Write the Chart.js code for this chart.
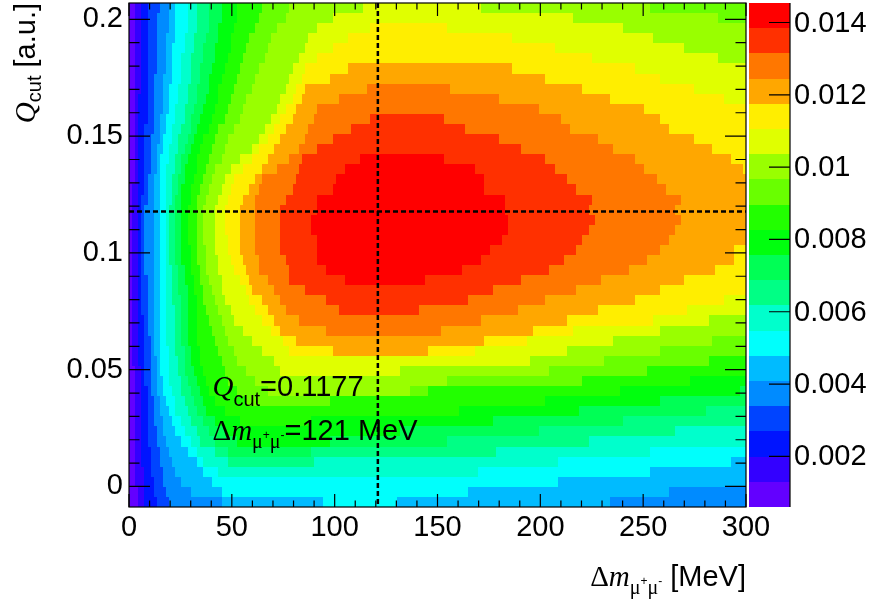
<!DOCTYPE html>
<html>
<head>
<meta charset="utf-8">
<script src="https://cdn.jsdelivr.net/npm/chart.js@4.4.1/dist/chart.umd.min.js"></script>
<style>
  html, body { margin: 0; padding: 0; background: #fff; }
  #wrap { width: 873px; height: 601px; position: relative; }
</style>
</head>
<body>
<div id="wrap"><canvas id="chart" width="873" height="601"></canvas></div>
<script>
// ── axes / binning ──
const xRange = [0, 300], nBinsX = 200;          // Δm [MeV]
const qRange = [-0.0088, 0.207], nBinsQ = 50;   // Q_cut [a.u.]
const zRange = [0.0006, 0.01454], nLevels = 20; // colour scale
const xTicks = [0, 50, 100, 150, 200, 250, 300];
const qTicks = [0, 0.05, 0.1, 0.15, 0.2];
const zTicks = [0.002, 0.004, 0.006, 0.008, 0.01, 0.012, 0.014];
const bestDm = 121, bestQ = 0.1177;

// ROOT "pretty" palette, 20 contour colours (low -> high)
const levelColors = ['#6300FF', '#3300FF', '#0014FF', '#0044FF', '#008BFF', '#00BBFF', '#00FFFC', '#00FFCC', '#00FF85', '#00FF55',
                     '#00FF0E', '#22FF00', '#69FF00', '#99FF00', '#E0FF00', '#FFEE00', '#FFA700', '#FF7700', '#FF3000', '#FF0000'];

// contour k = outline [Δm, Q] of the region where the colour level is >= k
const contour1 = [[3.1,0.2098],[310,0.2098],[310,-0.0124],[4.1,-0.0124],[3.6,0.0026],[3.1,0.0154],[2.6,0.0368],[2.1,0.0603],[2.1,0.1171],[2.6,0.1607],[3.1,0.2026]];
const contour2 = [[6.0,0.2098],[310,0.2098],[310,-0.0124],[8.0,-0.0124],[7.0,0.0026],[6.5,0.0154],[5.5,0.0368],[5.1,0.0603],[4.6,0.0795],[4.1,0.0966],[4.1,0.1171],[4.6,0.1372],[5.1,0.1607],[5.5,0.1821],[6.0,0.2026]];
const contour3 = [[9.4,0.2098],[310,0.2098],[310,-0.0124],[12.8,-0.0124],[12.8,-0.0047],[11.4,0.0026],[9.9,0.0154],[8.5,0.0368],[7.5,0.0603],[6.5,0.0795],[6.0,0.0966],[6.0,0.1171],[7.5,0.1372],[8.5,0.1607],[8.9,0.1821],[9.4,0.2026]];
const contour4 = [[14.3,0.2098],[310,0.2098],[310,-0.0124],[20.1,-0.0124],[18.7,-0.0038],[16.7,0.0026],[14.3,0.0154],[11.4,0.0368],[9.9,0.0603],[8.9,0.0795],[8.0,0.0966],[8.0,0.1171],[9.4,0.1286],[10.4,0.1372],[10.9,0.1479],[11.9,0.1607],[12.3,0.1714],[13.3,0.1821],[13.8,0.1927],[14.3,0.2026]];
const contour5 = [[19.1,0.2098],[310,0.2098],[310,-0.0004],[262.1,-0.0004],[262.1,-0.0047],[233.4,-0.0047],[233.4,-0.0124],[44.9,-0.0124],[44.9,-0.0047],[29.8,-0.0026],[25.0,0.0026],[20.1,0.0111],[16.7,0.0239],[14.3,0.0368],[12.3,0.0603],[11.9,0.0795],[11.4,0.0966],[11.4,0.1171],[12.3,0.1286],[13.3,0.1372],[14.3,0.1479],[15.7,0.1607],[16.7,0.1714],[17.7,0.1821],[18.7,0.1927],[19.1,0.2026]];
const contour6 = [[23.0,0.2098],[310,0.2098],[310,0.0128],[293.2,0.0128],[293.2,0.0084],[252.9,0.0084],[252.9,0.0041],[208.2,0.0041],[208.2,-0.0003],[164.4,-0.0003],[164.4,-0.0046],[130.0,-0.0046],[130.0,-0.0124],[94.0,-0.0124],[94.0,-0.0046],[46.8,-0.0040],[40.5,0.0019],[35.7,0.0062],[32.8,0.0106],[28.4,0.0149],[22.5,0.0239],[18.7,0.0338],[15.3,0.0483],[14.3,0.0624],[15.3,0.0795],[14.8,0.0966],[14.8,0.1286],[15.3,0.1372],[16.7,0.1479],[18.7,0.1607],[20.1,0.1714],[21.1,0.1821],[22.1,0.1927],[23.0,0.2026]];
const contour7 = [[28.4,0.2098],[310,0.2098],[310,0.0171],[252.9,0.0171],[252.9,0.0128],[208.2,0.0128],[208.2,0.0084],[169.0,0.0084],[169.0,0.0041],[48.0,0.0041],[42.0,0.0070],[36.0,0.0106],[34.7,0.0132],[28.4,0.0218],[23.0,0.0325],[20.1,0.0453],[18.7,0.0603],[18.7,0.0795],[17.7,0.0966],[17.7,0.1171],[18.2,0.1286],[18.7,0.1372],[20.6,0.1479],[23.0,0.1607],[24.5,0.1714],[25.9,0.1821],[27.4,0.1927],[28.4,0.2026]];
const contour8 = [[33.2,0.2098],[310,0.2098],[310,0.0257],[265.1,0.0257],[265.1,0.0214],[223.2,0.0214],[223.2,0.0171],[178.0,0.0171],[178.0,0.0128],[90.0,0.0128],[90.0,0.0084],[50.0,0.0084],[46.8,0.0120],[34.7,0.0188],[28.4,0.0316],[25.0,0.0453],[22.5,0.0603],[21.6,0.0795],[20.1,0.0966],[20.1,0.1171],[21.1,0.1286],[22.1,0.1372],[24.5,0.1479],[26.9,0.1607],[28.9,0.1714],[30.4,0.1821],[31.8,0.1927],[33.2,0.2026]];
const contour9 = [[39.6,0.2098],[310,0.2098],[310,0.0344],[280.1,0.0344],[280.1,0.0300],[239.8,0.0300],[239.8,0.0257],[199.9,0.0257],[199.9,0.0214],[154.7,0.0214],[154.7,0.0171],[88.0,0.0171],[88.0,0.0128],[50.0,0.0128],[39.6,0.0218],[32.3,0.0325],[28.4,0.0453],[26.0,0.0603],[25.0,0.0795],[23.0,0.0966],[22.5,0.1171],[23.5,0.1286],[25.0,0.1372],[27.9,0.1479],[31.4,0.1607],[33.2,0.1714],[35.7,0.1821],[37.6,0.1927],[39.6,0.2026]];
const contour10 = [[45.4,0.2098],[310,0.2098],[310,0.0430],[296.6,0.0430],[296.6,0.0387],[257.3,0.0387],[257.3,0.0344],[218.4,0.0344],[218.4,0.0300],[177.1,0.0300],[177.1,0.0257],[131.9,0.0257],[131.9,0.0214],[98.0,0.0214],[98.0,0.0171],[55.0,0.0171],[46.8,0.0231],[37.1,0.0316],[32.3,0.0453],[28.9,0.0603],[28.4,0.0795],[26.0,0.0966],[25.0,0.1171],[25.9,0.1286],[27.9,0.1372],[31.4,0.1479],[35.7,0.1607],[38.7,0.1714],[41.1,0.1821],[43.4,0.1927],[45.4,0.2026]];
const contour11 = [[53.2,0.2098],[310,0.2098],[310,0.0473],[272.3,0.0473],[272.3,0.0430],[238.3,0.0430],[238.3,0.0387],[202.4,0.0387],[202.4,0.0344],[161.1,0.0344],[161.1,0.0300],[88.0,0.0300],[88.0,0.0257],[60.0,0.0257],[51.7,0.0291],[42.0,0.0355],[37.1,0.0453],[33.7,0.0603],[32.3,0.0795],[29.4,0.0966],[28.9,0.1171],[29.8,0.1286],[32.8,0.1372],[36.2,0.1479],[41.5,0.1607],[44.5,0.1714],[47.3,0.1821],[50.2,0.1927],[53.2,0.2026]];
const contour12 = [[64.8,0.2098],[310,0.2098],[310,0.0560],[281.5,0.0560],[281.5,0.0516],[251.4,0.0516],[251.4,0.0473],[220.3,0.0473],[220.3,0.0430],[145.0,0.0430],[145.0,0.0387],[97.9,0.0387],[97.9,0.0344],[65.0,0.0344],[56.6,0.0368],[48.3,0.0453],[42.0,0.0603],[36.6,0.0795],[33.2,0.0966],[32.3,0.1171],[34.2,0.1286],[37.6,0.1372],[42.0,0.1479],[47.3,0.1607],[51.7,0.1714],[55.6,0.1821],[59.0,0.1927],[64.8,0.2026]];
const contour13 = [[78.4,0.2098],[252.9,0.2098],[252.9,0.2026],[285.9,0.2026],[285.9,0.1983],[310,0.1983],[310,0.0646],[283.0,0.0646],[283.0,0.0602],[258.7,0.0602],[258.7,0.0560],[230.5,0.0560],[230.5,0.0516],[203.8,0.0516],[203.8,0.0473],[154.7,0.0473],[154.7,0.0430],[136.7,0.0430],[136.7,0.0387],[70.0,0.0387],[61.4,0.0453],[54.1,0.0517],[49.3,0.0603],[42.0,0.0795],[37.1,0.0966],[36.2,0.1171],[38.6,0.1286],[43.4,0.1372],[49.3,0.1500],[55.1,0.1607],[60.0,0.1714],[64.8,0.1821],[71.1,0.1949],[78.4,0.2026]];
const contour14 = [[113.9,0.2098],[170.8,0.2098],[170.8,0.2026],[215.5,0.2026],[215.5,0.1983],[239.8,0.1983],[239.8,0.1940],[254.4,0.1940],[254.4,0.1897],[269.4,0.1897],[269.4,0.1854],[286.0,0.1854],[286.0,0.1810],[310,0.1810],[310,0.0732],[281.5,0.0732],[281.5,0.0688],[258.7,0.0688],[258.7,0.0646],[234.9,0.0646],[234.9,0.0602],[212.5,0.0602],[212.5,0.0560],[195.0,0.0560],[195.0,0.0516],[131.9,0.0516],[131.9,0.0473],[75.0,0.0473],[68.7,0.0560],[61.4,0.0603],[51.7,0.0709],[46.8,0.0795],[43.4,0.0923],[42.0,0.1051],[42.0,0.1171],[45.4,0.1286],[50.2,0.1372],[55.6,0.1415],[60.0,0.1436],[67.3,0.1543],[74.5,0.1671],[79.9,0.1799],[85.7,0.1885],[89.1,0.1957],[98.8,0.1983],[98.8,0.2026],[113.9,0.2026]];
const contour15 = [[116.9,0.1984],[154.7,0.1984],[154.7,0.1940],[185.8,0.1940],[185.8,0.1897],[206.7,0.1897],[206.7,0.1854],[225.2,0.1854],[225.2,0.1810],[245.6,0.1810],[245.6,0.1767],[257.3,0.1767],[257.3,0.1724],[275.2,0.1724],[275.2,0.1681],[288.8,0.1681],[288.8,0.1638],[310,0.1638],[310,0.0818],[288.8,0.0818],[288.8,0.0775],[270.9,0.0775],[270.9,0.0732],[254.4,0.0732],[254.4,0.0688],[215.5,0.0688],[215.5,0.0646],[193.7,0.0646],[193.7,0.0602],[167.4,0.0602],[167.4,0.0560],[80.0,0.0560],[77.0,0.0603],[64.8,0.0709],[59.0,0.0795],[54.1,0.0880],[49.3,0.0966],[46.8,0.1094],[46.8,0.1171],[49.3,0.1286],[56.6,0.1372],[65.3,0.1466],[72.2,0.1551],[78.4,0.1637],[81.8,0.1722],[85.7,0.1786],[91.6,0.1829],[98.8,0.1872],[106.1,0.1915],[116.9,0.1960]];
const contour16 = [[106.1,0.1810],[185.8,0.1810],[185.8,0.1767],[202.4,0.1767],[202.4,0.1724],[220.3,0.1724],[220.3,0.1681],[233.4,0.1681],[233.4,0.1638],[249.9,0.1638],[249.9,0.1595],[258.7,0.1595],[258.7,0.1552],[262.1,0.1552],[262.1,0.1509],[275.2,0.1509],[275.2,0.1466],[283.0,0.1466],[283.0,0.1422],[293.2,0.1422],[293.2,0.1379],[298.1,0.1379],[298.1,0.1336],[310,0.1336],[310,0.1035],[294.7,0.1035],[294.7,0.0948],[284.5,0.0948],[284.5,0.0904],[269.4,0.0904],[269.4,0.0861],[257.3,0.0861],[257.3,0.0818],[245.6,0.0818],[245.6,0.0775],[227.6,0.0775],[227.6,0.0732],[212.5,0.0732],[212.5,0.0688],[196.0,0.0688],[196.0,0.0646],[172.2,0.0646],[172.2,0.0602],[145.5,0.0602],[145.5,0.0560],[98.8,0.0560],[98.8,0.0602],[80.8,0.0624],[73.6,0.0667],[70.2,0.0710],[67.2,0.0753],[63.8,0.0797],[60.4,0.0840],[58.0,0.0883],[56.6,0.0926],[55.6,0.0969],[54.1,0.1013],[54.1,0.1185],[58.0,0.1272],[64.8,0.1358],[71.2,0.1444],[77.0,0.1530],[81.3,0.1617],[83.3,0.1660],[85.7,0.1703],[97.9,0.1746],[106.1,0.1789]];
const contour17 = [[115.4,0.1724],[155.7,0.1724],[155.7,0.1681],[180.0,0.1681],[180.0,0.1638],[198.9,0.1638],[198.9,0.1595],[209.6,0.1595],[209.6,0.1552],[214.4,0.1552],[214.4,0.1509],[227.6,0.1509],[227.6,0.1466],[234.9,0.1466],[234.9,0.1422],[245.6,0.1422],[245.6,0.1379],[249.9,0.1379],[249.9,0.1336],[256.3,0.1336],[256.3,0.1293],[260.6,0.1293],[260.6,0.1250],[268.0,0.1250],[268.0,0.1207],[265.0,0.1207],[265.0,0.1164],[268.0,0.1164],[268.0,0.1121],[265.0,0.1121],[265.0,0.1078],[262.1,0.1078],[262.1,0.1035],[257.3,0.1035],[257.3,0.0991],[251.4,0.0991],[251.4,0.0948],[242.7,0.0948],[242.7,0.0904],[229.1,0.0904],[229.1,0.0861],[216.9,0.0861],[216.9,0.0818],[202.0,0.0818],[202.0,0.0775],[189.0,0.0775],[189.0,0.0732],[171.0,0.0732],[171.0,0.0688],[151.3,0.0688],[151.3,0.0646],[96.0,0.0646],[96.0,0.0688],[83.0,0.0710],[77.0,0.0753],[74.0,0.0797],[70.0,0.0840],[67.0,0.0883],[63.0,0.0926],[62.0,0.1013],[62.0,0.1228],[63.0,0.1272],[64.0,0.1315],[72.0,0.1358],[78.0,0.1401],[83.0,0.1444],[86.0,0.1487],[87.0,0.1530],[89.6,0.1573],[92.0,0.1617],[102.0,0.1660],[115.4,0.1703]];
const contour18 = [[116.9,0.1595],[152.8,0.1595],[152.8,0.1552],[163.5,0.1552],[163.5,0.1509],[180.0,0.1509],[180.0,0.1466],[190.2,0.1466],[190.2,0.1422],[202.4,0.1422],[202.4,0.1379],[207.2,0.1379],[207.2,0.1336],[212.5,0.1336],[212.5,0.1293],[216.9,0.1293],[216.9,0.1250],[224.7,0.1250],[224.7,0.1207],[223.2,0.1207],[223.2,0.1164],[226.1,0.1164],[226.1,0.1121],[223.2,0.1121],[223.2,0.1078],[220.3,0.1078],[220.3,0.1035],[216.9,0.1035],[216.9,0.0991],[211.1,0.0991],[211.1,0.0948],[203.8,0.0948],[203.8,0.0904],[190.2,0.0904],[190.2,0.0861],[176.6,0.0861],[176.6,0.0818],[164.4,0.0818],[164.4,0.0775],[140.6,0.0775],[140.6,0.0732],[102.0,0.0732],[102.0,0.0775],[96.0,0.0797],[86.0,0.0840],[78.0,0.0883],[77.0,0.0969],[74.0,0.1013],[74.0,0.1185],[77.0,0.1228],[79.0,0.1272],[81.0,0.1315],[82.0,0.1358],[84.0,0.1401],[92.0,0.1444],[99.0,0.1487],[108.0,0.1530],[116.9,0.1573]];
const contour19 = [[112.4,0.1422],[152.8,0.1422],[152.8,0.1379],[167.8,0.1379],[167.8,0.1336],[172.2,0.1336],[172.2,0.1250],[182.4,0.1250],[182.4,0.1164],[184.4,0.1164],[184.4,0.1078],[181.0,0.1078],[181.0,0.1035],[175.2,0.1035],[175.2,0.0991],[170.8,0.0991],[170.8,0.0948],[162.0,0.0948],[162.0,0.0904],[144.0,0.0904],[144.0,0.0861],[104.7,0.0861],[104.7,0.0904],[95.9,0.0904],[95.9,0.0948],[91.5,0.0948],[91.5,0.1078],[88.1,0.1078],[88.1,0.1164],[91.5,0.1164],[91.5,0.1250],[98.8,0.1250],[98.8,0.1293],[100.3,0.1293],[100.3,0.1336],[104.7,0.1336],[104.7,0.1379],[112.4,0.1379]];

const contours = [contour1, contour2, contour3, contour4, contour5, contour6, contour7, contour8, contour9, contour10,
                  contour11, contour12, contour13, contour14, contour15, contour16, contour17, contour18, contour19];

const dx = (xRange[1] - xRange[0]) / nBinsX;
const dq = (qRange[1] - qRange[0]) / nBinsQ;
const dz = (zRange[1] - zRange[0]) / nLevels;

function inside(px, py, poly) {
    let c = false;
    for (let i = 0, j = poly.length - 1; i < poly.length; j = i++) {
        const [xi, yi] = poly[i], [xj, yj] = poly[j];
        if ((yi > py) !== (yj > py) && px < (xj - xi) * (py - yi) / (yj - yi) + xi) c = !c;
    }
    return c;
}

// one histogram cell per bin, value = middle of its colour band
const cells = [];
for (let i = 0; i < nBinsX; i++) {
    for (let j = 0; j < nBinsQ; j++) {
        const x = xRange[0] + (i + 0.5) * dx, q = qRange[0] + (j + 0.5) * dq;
        let lev = 0;
        for (let k = contours.length; k >= 1; k--) {
            if (inside(x, q, contours[k - 1])) { lev = k; break; }
        }
        cells.push({ x, y: q, v: zRange[0] + (lev + 0.5) * dz });
    }
}

const colorFor = v => levelColors[Math.max(0, Math.min(nLevels - 1, Math.floor((v - zRange[0]) / dz)))];

const SANS = '"Liberation Sans", Arial, sans-serif';
const SERIF = '"Liberation Serif", "Times New Roman", serif';

function drawParts(ctx, parts, x, y, align) {
    let w = 0;
    parts.forEach(p => { ctx.font = p.font; p.w = ctx.measureText(p.t).width; w += p.w; });
    let cx = align === 'right' ? x - w : x;
    parts.forEach(p => { ctx.font = p.font; ctx.fillText(p.t, cx, y + (p.dy || 0)); cx += p.w; });
}

const dmParts = () => [
    { t: 'Δ', font: `29px ${SERIF}` },
    { t: 'm', font: `italic 29px ${SERIF}` },
    { t: 'μ', font: `20px ${SERIF}`, dy: 8 },
    { t: '+', font: `12px ${SANS}`, dy: -1 },
    { t: 'μ', font: `20px ${SERIF}`, dy: 8 },
    { t: '-', font: `12px ${SANS}`, dy: -1 }
];

const heatmap = {
    id: 'heatmap',
    beforeDatasetsDraw(chart) {
        const { ctx, chartArea: a, scales: { x, y } } = chart;
        ctx.save();
        ctx.beginPath(); ctx.rect(a.left, a.top, a.width, a.height); ctx.clip();
        chart.data.datasets[0].data.forEach(c => {
            const x0 = Math.round(x.getPixelForValue(c.x - dx / 2)), x1 = Math.round(x.getPixelForValue(c.x + dx / 2));
            const y0 = Math.round(y.getPixelForValue(c.y + dq / 2)), y1 = Math.round(y.getPixelForValue(c.y - dq / 2));
            ctx.fillStyle = colorFor(c.v);
            ctx.fillRect(x0, y0, x1 - x0, y1 - y0);
        });
        ctx.restore();
    },
    afterDatasetsDraw(chart) {
        const { ctx, chartArea: a, scales: { x, y, z } } = chart;
        ctx.save();

        // best-point cross
        ctx.strokeStyle = '#000'; ctx.lineWidth = 2.5; ctx.setLineDash([5, 3]);
        ctx.beginPath();
        ctx.moveTo(x.getPixelForValue(bestDm), a.top); ctx.lineTo(x.getPixelForValue(bestDm), a.bottom);
        ctx.moveTo(a.left, y.getPixelForValue(bestQ)); ctx.lineTo(a.right, y.getPixelForValue(bestQ));
        ctx.stroke();
        ctx.setLineDash([]);

        // frame and inward ticks on all four sides
        ctx.lineWidth = 1.2;
        ctx.strokeRect(a.left, a.top, a.width, a.height);
        ctx.beginPath();
        for (let v = xRange[0]; v <= xRange[1]; v += 10) {
            const px = x.getPixelForValue(v), len = v % 50 === 0 ? 13 : 6.5;
            ctx.moveTo(px, a.bottom); ctx.lineTo(px, a.bottom - len);
            ctx.moveTo(px, a.top); ctx.lineTo(px, a.top + len);
        }
        for (let i = 0; i <= 20; i++) {
            const v = i * 0.01, py = y.getPixelForValue(v), len = i % 5 === 0 ? 21 : 10.5;
            ctx.moveTo(a.left, py); ctx.lineTo(a.left + len, py);
            ctx.moveTo(a.right, py); ctx.lineTo(a.right - len, py);
        }
        ctx.stroke();

        // colour bar
        const bx0 = 749, bx1 = 790;
        for (let k = 0; k < nLevels; k++) {
            const yTop = Math.round(z.getPixelForValue(zRange[0] + (k + 1) * dz));
            const yBot = Math.round(z.getPixelForValue(zRange[0] + k * dz));
            ctx.fillStyle = levelColors[k];
            ctx.fillRect(bx0, yTop, bx1 - bx0, yBot - yTop);
        }
        ctx.beginPath();
        ctx.moveTo(bx1, z.top); ctx.lineTo(bx1, z.bottom);
        zTicks.forEach(v => { const py = z.getPixelForValue(v); ctx.moveTo(bx1, py); ctx.lineTo(bx1 - 21, py); });
        ctx.stroke();
        ctx.fillStyle = '#000';
        ctx.font = `29px ${SANS}`; ctx.textBaseline = 'middle'; ctx.textAlign = 'left';
        zTicks.forEach(v => ctx.fillText(String(v), 794, z.getPixelForValue(v) + 1));

        // annotations
        ctx.textBaseline = 'alphabetic';
        const ax = x.getPixelForValue(40.6);
        drawParts(ctx, [
            { t: 'Q', font: `italic 29px ${SERIF}` },
            { t: 'cut', font: `20px ${SANS}`, dy: 10 },
            { t: '=' + bestQ, font: `29px ${SANS}` }
        ], ax, y.getPixelForValue(0.0389), 'left');
        drawParts(ctx, [...dmParts(), { t: '=' + bestDm + ' MeV', font: `29px ${SANS}` }],
            ax, y.getPixelForValue(0.0197), 'left');

        // axis titles
        drawParts(ctx, [...dmParts(), { t: ' [MeV]', font: `29px ${SANS}` }], a.right, 586, 'right');
        ctx.translate(35, a.top);
        ctx.rotate(-Math.PI / 2);
        drawParts(ctx, [
            { t: 'Q', font: `italic 29px ${SERIF}` },
            { t: 'cut', font: `20px ${SANS}`, dy: 6 },
            { t: ' [a.u.]', font: `29px ${SANS}` }
        ], 0, 0, 'right');
        ctx.restore();
    }
};

const tickFont = { family: SANS, size: 29 };

new Chart(document.getElementById('chart'), {
    type: 'scatter',
    data: { datasets: [{ data: cells, pointRadius: 0, pointHoverRadius: 0 }] },
    options: {
        responsive: false,
        animation: false,
        events: [],
        layout: { padding: { top: 3, right: 127, left: 0, bottom: 0 } },
        plugins: { legend: { display: false }, tooltip: { enabled: false } },
        scales: {
            x: {
                type: 'linear', min: xRange[0], max: xRange[1],
                afterFit: s => { s.height = 94; s.paddingLeft = 0; s.paddingRight = 0; },
                afterBuildTicks: s => { s.ticks = xTicks.map(v => ({ value: v })); },
                grid: { display: false, drawTicks: false }, border: { display: false },
                ticks: { font: tickFont, color: '#000', padding: 4, maxRotation: 0, autoSkip: false, callback: v => String(v) }
            },
            y: {
                type: 'linear', min: qRange[0], max: qRange[1],
                afterFit: s => { s.width = 129; s.paddingTop = 0; s.paddingBottom = 0; },
                afterBuildTicks: s => { s.ticks = qTicks.map(v => ({ value: v })); },
                grid: { display: false, drawTicks: false }, border: { display: false },
                ticks: { font: tickFont, color: '#000', padding: 6, autoSkip: false, callback: v => String(+v.toFixed(3)) }
            },
            z: { type: 'linear', display: false, position: 'right', min: zRange[0], max: zRange[1] }
        }
    },
    plugins: [heatmap]
});
</script>
</body>
</html>
